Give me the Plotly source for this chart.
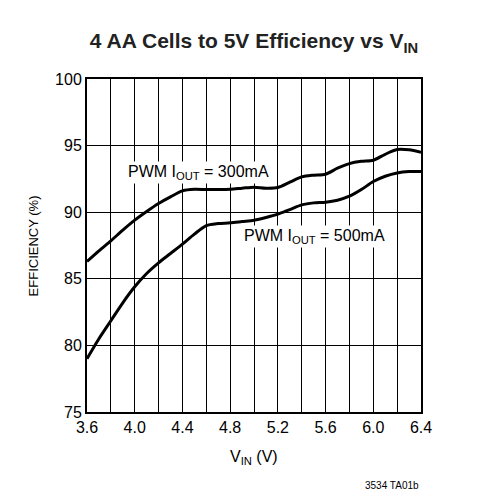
import plotly.graph_objects as go

vin = [3.6, 3.7, 3.8, 3.9, 4.0, 4.1, 4.2, 4.3, 4.4, 4.5, 4.6, 4.7, 4.8, 4.9, 5.0,
       5.1, 5.2, 5.3, 5.4, 5.5, 5.6, 5.7, 5.8, 5.9, 6.0, 6.1, 6.2, 6.3, 6.4]
eff_300ma = [86.3, 87.1, 87.85, 88.65, 89.4, 90.05, 90.65, 91.15, 91.6, 91.72, 91.7,
             91.7, 91.72, 91.8, 91.88, 91.8, 91.85, 92.25, 92.65, 92.78, 92.85, 93.3,
             93.65, 93.82, 93.9, 94.35, 94.7, 94.68, 94.5]
eff_500ma = [79.0, 80.5, 81.85, 83.2, 84.4, 85.4, 86.2, 86.9, 87.6, 88.35, 89.0,
             89.15, 89.2, 89.3, 89.4, 89.6, 89.85, 90.2, 90.55, 90.7, 90.75, 90.9,
             91.2, 91.7, 92.3, 92.7, 92.95, 93.05, 93.05]

x_ticks = [3.6, 4.0, 4.4, 4.8, 5.2, 5.6, 6.0, 6.4]
x_ticklabels = ["3.6", "4.0", "4.4", "4.8", "5.2", "5.6", "6.0", "6.4"]
y_ticks = [75, 80, 85, 90, 95, 100]

FONT = "Liberation Sans Narrow, Arial Narrow, Liberation Sans, Arial, sans-serif"

fig = go.Figure()
fig.add_trace(go.Scatter(x=vin, y=eff_300ma, mode="lines",
                         line=dict(color="black", width=3, shape="spline", smoothing=0.8),
                         showlegend=False, hoverinfo="skip"))
fig.add_trace(go.Scatter(x=vin, y=eff_500ma, mode="lines",
                         line=dict(color="black", width=3, shape="spline", smoothing=0.8),
                         showlegend=False, hoverinfo="skip"))

fig.update_layout(
    width=477, height=492,
    margin=dict(l=79, r=64, t=71, b=88),
    paper_bgcolor="white", plot_bgcolor="white",
    font=dict(family=FONT, color="black", size=16),
    title=dict(text="<b>4 AA Cells to 5V Efficiency vs V<sub>IN</sub></b>",
               x=0.5, xref="paper", xanchor="center",
               y=0.933, yref="container", yanchor="middle",
               font=dict(family=FONT, size=21, color="#222")),
    xaxis=dict(range=[3.6, 6.4], tickvals=x_ticks, ticktext=x_ticklabels,
               showgrid=True, gridcolor="black", gridwidth=1,
               minor=dict(dtick=0.2, tick0=3.6, showgrid=True, gridcolor="black",
                          gridwidth=1, ticks=""),
               showline=True, linecolor="black", linewidth=2, mirror=True,
               ticks="", zeroline=False, tickfont=dict(size=16)),
    yaxis=dict(range=[75, 100], tickvals=y_ticks,
               showgrid=True, gridcolor="black", gridwidth=1,
               showline=True, linecolor="black", linewidth=2, mirror=True,
               ticks="", zeroline=False, tickfont=dict(size=16)),
    annotations=[
        dict(text="PWM I<sub>OUT</sub> = 300mA", x=3.93, y=93.0, xref="x", yref="y",
             xanchor="left", yanchor="middle", showarrow=False, bgcolor="white",
             font=dict(size=16), borderpad=1),
        dict(text="PWM I<sub>OUT</sub> = 500mA", x=4.90, y=88.2, xref="x", yref="y",
             xanchor="left", yanchor="middle", showarrow=False, bgcolor="white",
             font=dict(size=16), borderpad=1),
        dict(text="V<sub>IN</sub> (V)", x=0.5, y=-0.138, xref="paper", yref="paper",
             xanchor="center", yanchor="middle", showarrow=False, font=dict(size=16)),
        dict(text="EFFICIENCY (%)", x=-0.159, y=0.5, xref="paper", yref="paper",
             xanchor="center", yanchor="middle", textangle=-90, showarrow=False,
             font=dict(size=13)),
        dict(text="3534 TA01b", x=1.0, y=-0.222, xref="paper", yref="paper",
             xanchor="right", yanchor="middle", showarrow=False, font=dict(size=10)),
    ],
)

fig.write_html("out.html")
